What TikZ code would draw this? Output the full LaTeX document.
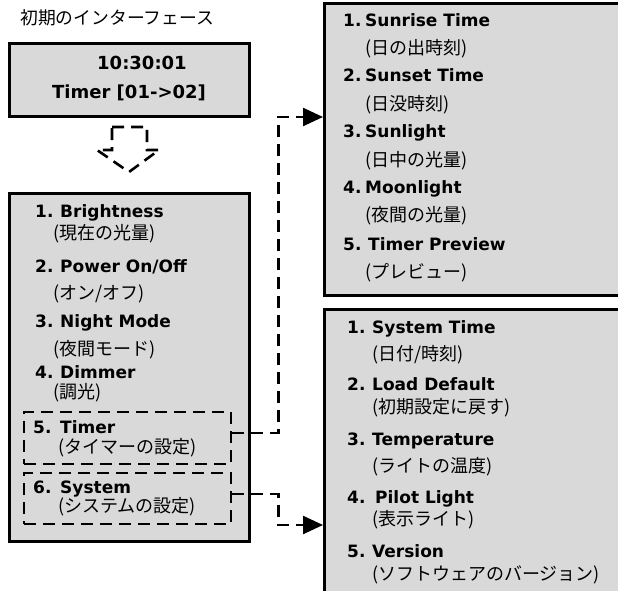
\documentclass[tikz,border=0pt]{standalone}
\usepackage{fontspec}
\setmainfont{DejaVu Sans}
\newfontfamily\jp{Noto Sans CJK JP}
\usetikzlibrary{arrows.meta}
\definecolor{panelgray}{HTML}{D9D9D9}
\tikzset{
  panel/.style={draw=black, line width=2.6pt, fill=panelgray, inner sep=0pt, anchor=north west},
  dbox/.style={draw=black, line width=2.4pt, dash pattern=on 12pt off 7pt, inner sep=0pt, anchor=north west},
  hd/.style={anchor=base west, inner sep=0pt, font=\fontsize{17}{20}\selectfont\bfseries},
  sub/.style={anchor=base west, inner sep=0pt, font=\fontsize{18}{20}\selectfont\jp},
  conn/.style={line width=2.4pt, dash pattern=on 12pt off 7pt, -{Triangle[length=20pt,width=18pt]}},
  bigdash/.style={line width=2.6pt, dash pattern=on 12pt off 7pt, line join=miter},
}
\newcommand{\nA}[1]{\makebox[25pt][l]{#1}}
\newcommand{\nB}[1]{\makebox[22pt][l]{#1}}
\newcommand{\nC}[1]{\makebox[25pt][l]{#1}}
\newcommand{\nD}[1]{\makebox[27pt][l]{#1}}
\begin{document}
\begin{tikzpicture}[x=1pt,y=-1pt]
\useasboundingbox (0,0) rectangle (618,591);
\clip (0,0) rectangle (618,591);

% title
\node[sub, font=\fontsize{17.8}{20}\selectfont\jp] (title) at (20,25) {初期のインターフェース};

% box 1
\node[panel, minimum width=240pt, minimum height=73pt] (b1) at (8,42) {};
\node[hd, font=\fontsize{18}{20}\selectfont\bfseries] (clock) at (97,70) {10:30:01};
\node[hd, font=\fontsize{18}{20}\selectfont\bfseries] (timerrange) at (52,99) {Timer [01->02]};

% dashed down arrow
\draw[bigdash] (112,127) -- (147,127) -- (147,150) -- (159,150) -- (129,172) -- (97,150) -- (112,150) -- cycle;

% box 2 (main menu)
\node[panel, minimum width=240pt, minimum height=348pt] (b2) at (8,192) {};
\node[hd] (m1) at (35,217) {\nA{1.}Brightness};
\node[sub] (m1j) at (53,239) {(現在の光量)};
\node[hd] (m2) at (35,272) {\nA{2.}Power On/Off};
\node[sub] (m2j) at (53,299) {(オン/オフ)};
\node[hd] (m3) at (35,327) {\nA{3.}Night Mode};
\node[sub] (m3j) at (53,355) {(夜間モード)};
\node[hd] (m4) at (35,378) {\nA{4.}Dimmer};
\node[sub] (m4j) at (53,398) {(調光)};

\node[dbox, minimum width=207pt, minimum height=52pt] (timer) at (23,411) {};
\node[hd] (m5) at (33,433) {\nD{5.}Timer};
\node[sub] (m5j) at (58,453) {(タイマーの設定)};
\node[dbox, minimum width=207pt, minimum height=51pt] (system) at (23,472) {};
\node[hd] (m6) at (33,493) {\nD{6.}System};
\node[sub] (m6j) at (58,512) {(システムの設定)};

% box 3 (timer menu)
\node[panel, minimum width=310pt, minimum height=292pt] (b3) at (323,2) {};
\node[hd] (t1) at (343,27) {\nB{1.}Sunrise Time};
\node[sub] (t1j) at (365,55) {(日の出時刻)};
\node[hd] (t2) at (343,82) {\nB{2.}Sunset Time};
\node[sub] (t2j) at (365,111) {(日没時刻)};
\node[hd] (t3) at (343,138) {\nB{3.}Sunlight};
\node[sub] (t3j) at (365,166) {(日中の光量)};
\node[hd] (t4) at (343,193) {\nB{4.}Moonlight};
\node[sub] (t4j) at (365,221) {(夜間の光量)};
\node[hd] (t5) at (343,250) {\nC{5.}Timer Preview};
\node[sub] (t5j) at (365,278) {(プレビュー)};

% box 4 (system menu)
\node[panel, minimum width=310pt, minimum height=300pt] (b4) at (323,308) {};
\node[hd] (s1) at (347,333) {\nC{1.}System Time};
\node[sub] (s1j) at (372,360) {(日付/時刻)};
\node[hd] (s2) at (347,390) {\nC{2.}Load Default};
\node[sub] (s2j) at (372,413) {(初期設定に戻す)};
\node[hd] (s3) at (347,445) {\nC{3.}Temperature};
\node[sub] (s3j) at (372,472) {(ライトの温度)};
\node[hd] (s4) at (347,503) {\nC{4.}\hspace{3pt}Pilot Light};
\node[sub] (s4j) at (372,525) {(表示ライト)};
\node[hd] (s5) at (347,557) {\nC{5.}Version};
\node[sub] (s5j) at (372,580) {(ソフトウェアのバージョン)};

% connectors
\coordinate (in1) at (323,117);
\coordinate (in2) at (323,525);
\draw[conn] ([yshift=5pt]timer.east) -- ++(46,0) |- (b3.west |- in1);
\draw[conn] ([yshift=5pt]system.east) -- ++(46,0) |- (b4.west |- in2);
\end{tikzpicture}
\end{document}
